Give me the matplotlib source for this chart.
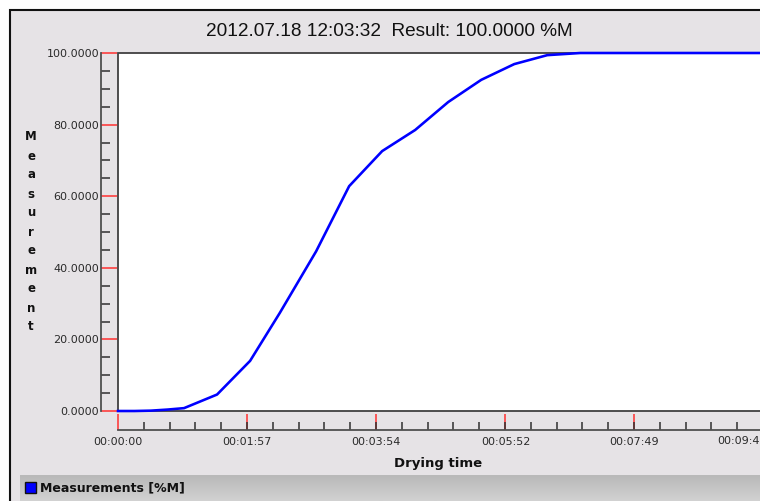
import numpy as np
import matplotlib
matplotlib.use("Agg")
import matplotlib.pyplot as plt
from matplotlib.patches import Rectangle
from matplotlib.ticker import FixedLocator, MultipleLocator, FuncFormatter

# drying curve, seconds vs %M
time_s = [0, 15, 30, 45, 60, 90, 120, 147, 180, 210, 240, 270, 300, 330, 360, 390, 420, 480, 540, 600, 640]
moisture = [0.0, 0.0, 0.1, 0.4, 0.8, 4.6, 14.0, 27.4, 44.6, 62.8, 72.6, 78.5, 86.3, 92.5, 96.9, 99.4, 100.0,
            100.0, 100.0, 100.0, 100.0]

major_ticks_s = [0, 117, 234, 352, 469, 586]
title_text = "2012.07.18 12:03:32  Result: 100.0000 %M"
x_label = "Drying time"
y_label = "Measurement"
series_label = "Measurements [%M]"

W, H, DPI = 760, 501, 100
PANEL = "#E6E3E6"
PX = 0.72  # points per pixel at 100 dpi
PX_PER_S = 129 / 117.2


def fx(px):
    return px / W


def fy(py):
    return 1 - py / H


def hms(v):
    v = int(round(v))
    return f"{v // 3600:02d}:{(v % 3600) // 60:02d}:{v % 60:02d}"


def tick_fmt(v, _pos=None):
    # the last label is pulled inside the window separately
    if v >= major_ticks_s[-1]:
        return ""
    return hms(v)


fig = plt.figure(figsize=(W / DPI, H / DPI), dpi=DPI, facecolor="white")

# grey window panel with dark frame
fig.patches.append(Rectangle((fx(10), fy(530)), fx(800), fy(10) - fy(530), transform=fig.transFigure,
                             facecolor=PANEL, edgecolor="#111111", linewidth=1.5, zorder=-2))

left, right, top, bottom = 118, 800, 53, 411
ax = fig.add_axes([fx(left), fy(bottom), fx(right - left), fy(top) - fy(bottom)])
ax.set_facecolor("white")
ax.set_xlim(0, (right - left) / PX_PER_S)
ax.set_ylim(0, 100)

ax.plot(time_s, moisture, color="#0000FF", linewidth=2.6 * PX, clip_on=False, zorder=5,
        solid_joinstyle="round")

# plot border
for s in ("top", "right"):
    ax.spines[s].set_visible(False)
ax.add_patch(Rectangle((0, 0), 1, 1, transform=ax.transAxes, fill=False, edgecolor="#404040",
                       linewidth=1.3, clip_on=False, zorder=4))

# detached axis lines carrying the ticks
ax.spines["left"].set_position(("outward", 17 * PX))
ax.spines["bottom"].set_position(("outward", 19 * PX))
for s in ("left", "bottom"):
    ax.spines[s].set_color("#505050")
    ax.spines[s].set_linewidth(1.3)

ax.yaxis.set_major_locator(MultipleLocator(20))
ax.yaxis.set_minor_locator(MultipleLocator(5))
ax.yaxis.set_major_formatter(FuncFormatter(lambda v, p: f"{v:.4f}"))
ax.xaxis.set_major_locator(FixedLocator(major_ticks_s))
ax.xaxis.set_minor_locator(MultipleLocator(117.2 / 5))
ax.xaxis.set_major_formatter(FuncFormatter(tick_fmt))

ax.tick_params(which="both", direction="in", labelsize=8, labelcolor="#2a2a2a")
ax.tick_params(which="major", color="#FF3030", length=16 * PX, width=1.1)
ax.tick_params(which="minor", color="#303030", length=8.5 * PX, width=1.1)
ax.tick_params(axis="y", which="major", pad=2 * PX)
ax.tick_params(axis="x", which="major", pad=7 * PX)

fig.text(fx(717), fy(441), hms(major_ticks_s[-1]), ha="left", va="center", fontsize=8,
         color="#2a2a2a")

fig.text(fx(389), fy(32), title_text, ha="center", va="center", fontsize=13.7,
         family="Liberation Sans", color="#111111")
fig.text(fx(438), fy(463), x_label, ha="center", va="center", fontsize=9.5,
         fontweight="bold", color="#111111")

for i, ch in enumerate(y_label):
    fig.text(fx(31), fy(137 + i * 19), ch, ha="center", va="center", fontsize=8.5,
             fontweight="bold", color="#111111")

# series bar at the bottom
bar = fig.add_axes([fx(20), fy(501), fx(780), fy(475) - fy(501)])
grad = np.linspace(0.72, 0.82, 26).reshape(-1, 1)
grad[0] = 0.82
bar.imshow(grad, cmap="gray", vmin=0, vmax=1, aspect="auto", extent=(0, 1, 0, 1))
bar.set_axis_off()
fig.patches.append(Rectangle((fx(25), fy(493)), fx(11), fy(482) - fy(493), transform=fig.transFigure,
                             facecolor="#0000FF", edgecolor="#111111", linewidth=1.0, zorder=5))
fig.text(fx(40), fy(488), series_label, ha="left", va="center", fontsize=9,
         fontweight="bold", color="#111111")

fig.savefig("out.png", dpi=DPI)
